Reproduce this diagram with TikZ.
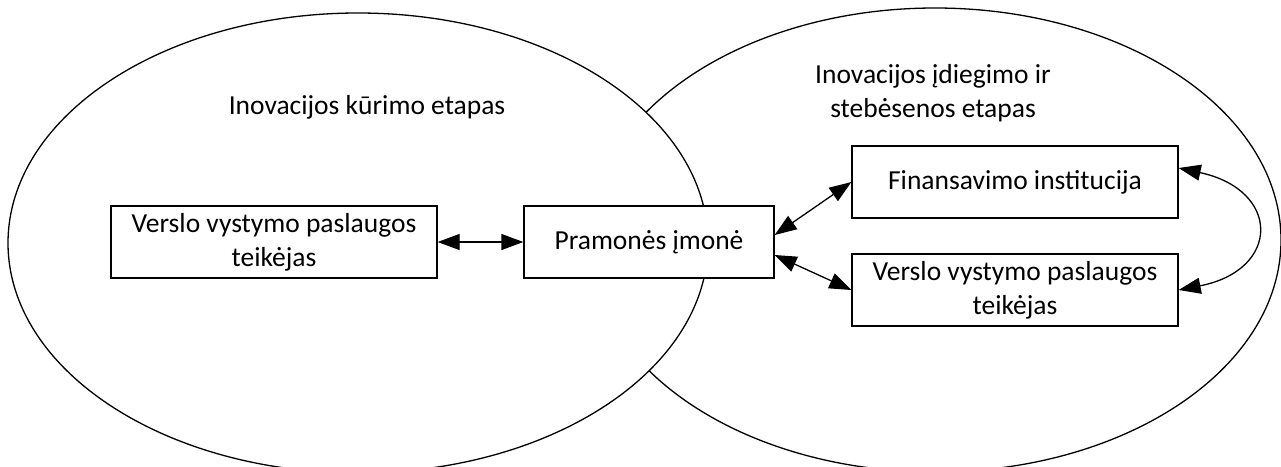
\documentclass[tikz,border=0pt]{standalone}
\usepackage{fontspec}
\setmainfont{Carlito}
\usetikzlibrary{arrows.meta}
\begin{document}
\begin{tikzpicture}[x=1pt,y=-1pt,
  every node/.style={font=\fontsize{27.5}{34}\selectfont},
  boxnode/.style={draw, line width=1.3pt, fill=white, minimum width=326pt, minimum height=72pt, align=center, inner sep=0pt},
  linkarrow/.style={line width=1.3pt, {Triangle[length=22pt,width=16pt]}-{Triangle[length=22pt,width=16pt]}},
  stage/.style={draw, line width=1.3pt, fill=white}
]
\useasboundingbox (0,0) rectangle (1281,466);
\clip (0,0) rectangle (1281,466);
\draw[stage] (935,240) ellipse [x radius=346pt, y radius=232pt];
\draw[stage] (358,243) ellipse [x radius=350pt, y radius=230pt];

\node[anchor=base] (t1) at (367,114) {Inovacijos kūrimo etapas};
\node[anchor=base, align=center] (t2) at (933,117) {Inovacijos įdiegimo ir\\stebėsenos etapas};

\node[boxnode] (lb) at (274,242) {Verslo vystymo paslaugos\\teikėjas};
\node[boxnode, minimum width=250pt] (pr) at (649,242) {Pramonės įmonė};
\node[boxnode] (fin) at (1015,182) {Finansavimo institucija};
\node[boxnode] (vr) at (1015,290) {Verslo vystymo paslaugos\\teikėjas};

\draw[linkarrow] (lb.east) -- (pr.west);
\draw[linkarrow] ([yshift=7pt]pr.east) -- (fin.west);
\draw[linkarrow] ([yshift=-13pt]pr.east) -- (vr.west);
\draw[linkarrow] ([yshift=14pt]fin.east) .. controls (1281,190) and (1281,270) .. (vr.east);
\end{tikzpicture}
\end{document}
